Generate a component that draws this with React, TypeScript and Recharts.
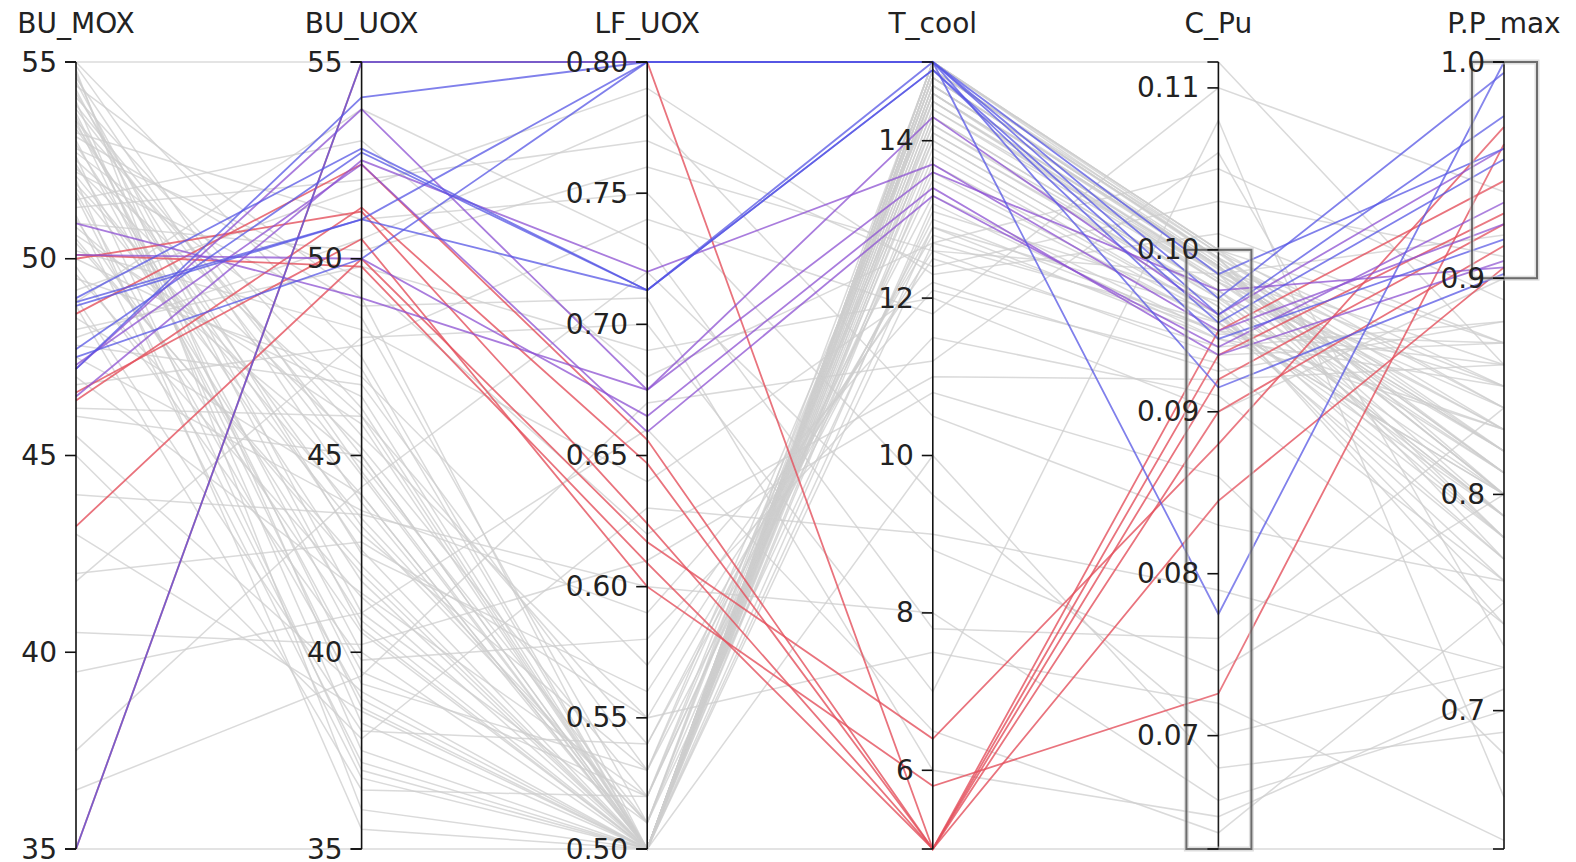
import React from 'react';
import { LineChart, Line, XAxis, YAxis, ReferenceLine, ReferenceDot } from 'recharts';

const axes = ['BU_MOX', 'BU_UOX', 'LF_UOX', 'T_cool', 'C_Pu', 'P.P_max'];
const axisMin = [35, 35, 0.5, 5, 0.063, 0.636];
const axisMax = [55, 55, 0.8, 15, 0.1116, 1.0];
const tickValues = [
  [35, 40, 45, 50, 55],
  [35, 40, 45, 50, 55],
  [0.5, 0.55, 0.6, 0.65, 0.7, 0.75, 0.8],
  [6, 8, 10, 12, 14],
  [0.07, 0.08, 0.09, 0.1, 0.11],
  [0.7, 0.8, 0.9, 1.0],
];
const tickLabels = [
  ['35', '40', '45', '50', '55'],
  ['35', '40', '45', '50', '55'],
  ['0.50', '0.55', '0.60', '0.65', '0.70', '0.75', '0.80'],
  ['6', '8', '10', '12', '14'],
  ['0.07', '0.08', '0.09', '0.10', '0.11'],
  ['0.7', '0.8', '0.9', '1.0'],
];
const brushAxes = ['C_Pu', 'P.P_max'];
const brushLow = [0.063, 0.9];
const brushHigh = [0.1, 1.0];

// each line: [BU_MOX, BU_UOX, LF_UOX, T_cool, C_Pu, P.P_max]
const greyLines = [
  [55, 55, 0.8, 15, 0.1116, 0.86],
  [35, 35, 0.5, 5, 0.063, 0.636],
  [54.5, 41.0, 0.51, 14.6, 0.0985, 0.82],
  [53.8, 44.5, 0.5, 14.8, 0.099, 0.8],
  [53.0, 39.5, 0.52, 14.2, 0.097, 0.85],
  [52.5, 46.0, 0.5, 14.9, 0.0995, 0.78],
  [54.0, 37.5, 0.5, 13.8, 0.096, 0.76],
  [51.8, 43.0, 0.53, 14.5, 0.098, 0.84],
  [52.2, 48.5, 0.51, 15.0, 0.1, 0.87],
  [50.5, 42.0, 0.5, 14.3, 0.0975, 0.79],
  [53.5, 45.5, 0.55, 12.8, 0.095, 0.83],
  [51.0, 40.5, 0.5, 14.7, 0.099, 0.81],
  [49.5, 47.0, 0.57, 12.5, 0.094, 0.88],
  [54.8, 36.0, 0.5, 14.0, 0.0965, 0.74],
  [52.8, 49.5, 0.62, 11.0, 0.092, 0.86],
  [48.5, 44.0, 0.5, 14.9, 0.0998, 0.82],
  [47.0, 41.5, 0.52, 13.5, 0.0955, 0.8],
  [51.5, 53.0, 0.68, 12.7, 0.105, 0.89],
  [50.0, 46.5, 0.5, 15.0, 0.0995, 0.77],
  [45.5, 39.0, 0.5, 14.4, 0.0985, 0.83],
  [53.2, 51.0, 0.75, 9.5, 0.07, 0.72],
  [49.0, 38.0, 0.54, 12.9, 0.0945, 0.85],
  [55.0, 47.5, 0.5, 14.8, 0.099, 0.79],
  [44.0, 43.5, 0.6, 8.0, 0.066, 0.7],
  [52.0, 35.5, 0.5, 14.6, 0.098, 0.81],
  [48.0, 50.5, 0.78, 10.5, 0.083, 0.76],
  [46.0, 45.0, 0.5, 15.0, 0.1, 0.84],
  [54.2, 42.5, 0.56, 12.6, 0.0935, 0.87],
  [41.8, 48.0, 0.7, 7.0, 0.108, 0.66],
  [53.6, 40.0, 0.5, 14.1, 0.097, 0.8],
  [50.8, 44.8, 0.51, 13.9, 0.096, 0.78],
  [39.5, 41.0, 0.66, 6.5, 0.064, 0.75],
  [52.6, 37.0, 0.5, 14.5, 0.0985, 0.82],
  [47.8, 46.8, 0.53, 13.0, 0.095, 0.86],
  [51.3, 52.0, 0.77, 12.4, 0.103, 0.91],
  [54.6, 43.8, 0.5, 14.9, 0.0995, 0.83],
  [49.8, 39.8, 0.58, 11.5, 0.091, 0.74],
  [43.0, 38.5, 0.5, 10.0, 0.068, 0.69],
  [53.9, 45.0, 0.5, 14.7, 0.099, 0.81],
  [50.2, 48.2, 0.64, 12.2, 0.0925, 0.88],
  [52.9, 41.8, 0.5, 14.2, 0.0975, 0.79],
  [48.8, 36.5, 0.52, 13.6, 0.0955, 0.77],
  [37.5, 44.2, 0.72, 8.8, 0.074, 0.8],
  [54.4, 49.0, 0.5, 15.0, 0.0998, 0.85],
  [51.7, 38.8, 0.5, 14.4, 0.098, 0.82],
  [46.8, 47.8, 0.74, 11.8, 0.11, 0.94],
  [53.3, 43.2, 0.51, 14.8, 0.099, 0.8],
  [50.6, 45.8, 0.5, 13.2, 0.0945, 0.83],
  [45.0, 37.8, 0.63, 9.0, 0.079, 0.72],
  [52.4, 40.8, 0.5, 14.6, 0.0985, 0.78],
  [49.2, 51.8, 0.79, 12.3, 0.101, 0.87],
  [54.1, 46.2, 0.5, 14.9, 0.0995, 0.84],
  [42.0, 42.8, 0.55, 7.5, 0.072, 0.64],
  [51.9, 44.0, 0.5, 14.3, 0.0975, 0.81],
  [53.7, 39.2, 0.53, 14.0, 0.0965, 0.77],
  [48.2, 49.8, 0.69, 12.0, 0.09, 0.9],
  [50.4, 42.2, 0.5, 14.7, 0.0988, 0.86],
  [52.7, 47.2, 0.5, 15.0, 0.1, 0.8],
  [40.5, 40.2, 0.61, 10.8, 0.086, 0.68],
  [54.7, 38.2, 0.5, 14.5, 0.0982, 0.83],
  [47.5, 43.6, 0.59, 12.1, 0.093, 0.76],
  [51.1, 36.8, 0.5, 14.8, 0.0992, 0.82],
  [53.1, 48.8, 0.71, 6.0, 0.065, 0.71],
  [49.6, 41.4, 0.5, 13.7, 0.0958, 0.79],
  [52.3, 45.2, 0.52, 14.6, 0.0986, 0.85],
  [36.5, 39.4, 0.67, 11.2, 0.106, 0.73],
  [54.9, 44.6, 0.5, 14.9, 0.0994, 0.81],
  [50.9, 50.2, 0.76, 12.6, 0.0985, 0.92],
  [53.4, 42.6, 0.5, 14.1, 0.0972, 0.78],
  [46.2, 46.0, 0.54, 13.3, 0.0948, 0.87],
  [51.6, 37.2, 0.5, 14.7, 0.0989, 0.8],
  [48.9, 53.8, 0.73, 7.8, 0.076, 0.84],
  [54.3, 40.6, 0.5, 12.9, 0.0962, 0.75],
  [52.1, 43.4, 0.51, 13.1, 0.0968, 0.79],
  [53.5, 38.6, 0.5, 12.7, 0.0955, 0.8],
];

const redLines = [
  [35.0, 55.0, 0.8, 5.0, 0.0935, 0.93],
  [48.6, 52.4, 0.656, 5.0, 0.095, 0.945],
  [46.4, 51.3, 0.647, 5.0, 0.092, 0.925],
  [50.0, 51.2, 0.624, 5.0, 0.09, 0.915],
  [43.2, 50.0, 0.617, 6.4, 0.088, 0.97],
  [50.1, 49.8, 0.609, 5.0, 0.0845, 0.905],
  [46.6, 50.5, 0.6, 5.8, 0.0726, 0.962],
];
const purpleLines = [
  [50.9, 49.0, 0.675, 13.6, 0.0975, 0.905],
  [46.5, 52.5, 0.72, 13.7, 0.095, 0.925],
  [47.3, 52.4, 0.659, 13.3, 0.094, 0.935],
  [47.2, 53.8, 0.675, 14.3, 0.096, 0.96],
  [50.1, 50.0, 0.665, 13.4, 0.0935, 0.908],
];
const blueLines = [
  [35.0, 55.0, 0.8, 15.0, 0.0985, 0.96],
  [47.2, 54.1, 0.8, 15.0, 0.097, 0.995],
  [49.0, 52.8, 0.713, 14.9, 0.0955, 0.955],
  [47.7, 52.7, 0.713, 14.9, 0.0945, 0.918],
  [48.8, 51.0, 0.8, 15.0, 0.0775, 1.0],
  [47.5, 50.0, 0.8, 15.0, 0.0915, 0.902],
  [48.9, 51.0, 0.713, 15.0, 0.096, 0.975],
];

const norm = (v: number, i: number) => (v - axisMin[i]) / (axisMax[i] - axisMin[i]);

const groups: { key: string; lines: number[][] }[] = [
  { key: 'g', lines: greyLines },
  { key: 'r', lines: redLines },
  { key: 'p', lines: purpleLines },
  { key: 'b', lines: blueLines },
];

const rows = axes.map((a, i) => {
  const row: Record<string, any> = { axis: a };
  groups.forEach((g) => g.lines.forEach((l, j) => (row[g.key + j] = norm(l[i], i))));
  return row;
});

const strokeOf: Record<string, string> = {
  g: 'rgba(205,205,205,0.75)',
  r: 'rgba(228,80,92,0.8)',
  p: 'rgba(140,80,210,0.75)',
  b: 'rgba(85,85,228,0.75)',
};

const FONT = 'DejaVu Sans, Verdana, sans-serif';
const FS = 28;

const tickShape = (label: string | null) => (p: any) => (
  <g>
    <line x1={p.cx - 11} y1={p.cy} x2={p.cx} y2={p.cy} stroke="#111" strokeWidth={1.6} />
    {label !== null && (
      <text x={p.cx - 19} y={p.cy} dy="0.34em" textAnchor="end" fontFamily={FONT} fontSize={FS} fill="#222">
        {label}
      </text>
    )}
  </g>
);

const titleShape = (label: string) => (p: any) => (
  <text x={p.cx} y={p.cy - 29} textAnchor="middle" fontFamily={FONT} fontSize={FS} fill="#222">
    {label}
  </text>
);

const brushShape = (p: any) => {
  const top = Math.min(p.y1, p.y2);
  const h = Math.abs(p.y2 - p.y1);
  return (
    <g>
      <rect x={p.x1 - 32} y={top} width={65} height={h} fill="none" stroke="rgba(200,200,200,0.6)" strokeWidth={5} />
      <rect x={p.x1 - 32} y={top} width={65} height={h} fill="rgba(255,255,255,0.05)" stroke="rgba(70,70,70,0.75)" strokeWidth={2} />
    </g>
  );
};

export default function App() {
  return (
    <div style={{ width: 1560, height: 854 }}>
      <LineChart width={1560} height={854} data={rows} margin={{ top: 54, right: 64, bottom: 13, left: 68 }}>
        <XAxis dataKey="axis" hide />
        <YAxis hide domain={[0, 1]} type="number" />
        {groups.map((g) =>
          g.lines.map((_, j) => (
            <Line
              key={g.key + j}
              dataKey={g.key + j}
              type="linear"
              stroke={strokeOf[g.key]}
              strokeWidth={g.key === 'g' ? 1.5 : 1.8}
              dot={false}
              activeDot={false}
              isAnimationActive={false}
            />
          ))
        )}
        {axes.map((a) => (
          <ReferenceLine key={'ax' + a} x={a} stroke="#111" strokeWidth={1.6} />
        ))}
        {axes.map((a) => (
          <ReferenceDot key={'lo' + a} x={a} y={0} r={0} shape={tickShape(null)} />
        ))}
        {axes.map((a) => (
          <ReferenceDot key={'hi' + a} x={a} y={1} r={0} shape={tickShape(null)} />
        ))}
        {axes.map((a, i) =>
          tickValues[i].map((v, k) => (
            <ReferenceDot key={'t' + a + k} x={a} y={norm(v, i)} r={0} shape={tickShape(tickLabels[i][k])} />
          ))
        )}
        {axes.map((a) => (
          <ReferenceDot key={'title' + a} x={a} y={1} r={0} shape={titleShape(a)} />
        ))}
        {brushAxes.map((a, k) => {
          const i = axes.indexOf(a);
          return (
            <ReferenceLine
              key={'brush' + a}
              segment={[
                { x: a, y: norm(brushHigh[k], i) },
                { x: a, y: norm(brushLow[k], i) },
              ]}
              shape={brushShape}
            />
          );
        })}
      </LineChart>
    </div>
  );
}
